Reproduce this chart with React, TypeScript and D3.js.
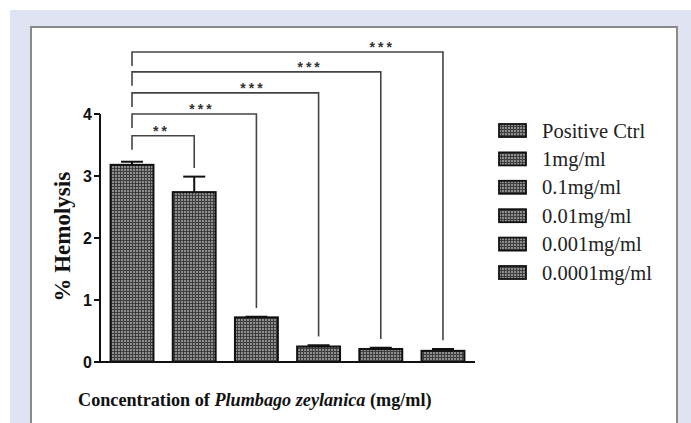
import React from "react";
import * as d3 from "d3";

const categories = ["Positive Ctrl", "1mg/ml", "0.1mg/ml", "0.01mg/ml", "0.001mg/ml", "0.0001mg/ml"];
const values = [3.18, 2.74, 0.72, 0.25, 0.21, 0.18];
const errors = [0.05, 0.25, 0.01, 0.02, 0.02, 0.03];
const yTicks = [0, 1, 2, 3, 4];
const bracketTargets = [1, 2, 3, 4, 5];
const bracketLevels = [3.65, 4.0, 4.34, 4.68, 5.0];
const bracketLabels = ["**", "***", "***", "***", "***"];
const bracketLabelPos = [0.45, 0.55, 0.64, 0.71, 0.8];

const W = 691;
const H = 423;
const margin = { left: 100, right: 216, top: 114, bottom: 61 };

export default function App() {
  const x = d3
    .scaleBand<string>()
    .domain(categories)
    .range([margin.left, W - margin.right])
    .paddingInner(0.31)
    .paddingOuter(0.17);
  const y = d3.scaleLinear().domain([0, 4]).range([H - margin.bottom, margin.top]);
  const bw = x.bandwidth();
  const cx = (i: number) => (x(categories[i]) as number) + bw / 2;
  const legendY = d3.scaleLinear().domain([0, 5]).range([130.5, 272.5]);

  return (
    <svg
      width={W}
      height={H}
      style={{ position: "absolute", left: 0, top: 0, display: "block" }}
    >
      <defs>
        <pattern id="dots" width={3} height={3} patternUnits="userSpaceOnUse">
          <rect width={3} height={3} fill="#3e3e3e" />
          <rect x={1} y={1} width={2} height={2} fill="#8e8e8e" />
        </pattern>
      </defs>
      <rect x={0} y={0} width={W} height={H} fill="#ffffff" />
      <rect x={10} y={10} width={W - 10} height={H - 10} fill="#e0e3f2" />
      <rect x={31} y={27} width={646} height={H} fill="#ffffff" stroke="#8a8a8a" strokeWidth={2} />

      {/* bars */}
      {values.map((v, i) => (
        <rect
          key={"b" + i}
          x={x(categories[i])}
          y={y(v)}
          width={bw}
          height={y(0) - y(v)}
          fill="url(#dots)"
          stroke="#111"
          strokeWidth={2}
        />
      ))}
      {/* error bars */}
      {values.map((v, i) => (
        <g key={"e" + i} stroke="#111" strokeWidth={2}>
          <line x1={cx(i)} x2={cx(i)} y1={y(v)} y2={y(v + errors[i])} />
          <line x1={cx(i) - 11} x2={cx(i) + 11} y1={y(v + errors[i])} y2={y(v + errors[i])} />
        </g>
      ))}

      {/* axes */}
      <g stroke="#111" strokeWidth={2}>
        <line x1={margin.left} x2={margin.left} y1={y(4)} y2={y(0) + 1} />
        <line x1={margin.left - 1} x2={W - margin.right} y1={y(0)} y2={y(0)} />
        {yTicks.map((t) => (
          <line key={"t" + t} x1={margin.left - 6} x2={margin.left} y1={y(t)} y2={y(t)} />
        ))}
      </g>
      {yTicks.map((t) => (
        <text
          key={"tl" + t}
          x={margin.left - 8}
          y={y(t)}
          dy="0.36em"
          textAnchor="end"
          fontFamily="'Liberation Sans', Arial, sans-serif"
          fontWeight="bold"
          fontSize={16}
          fill="#111"
        >
          {t}
        </text>
      ))}

      {/* significance brackets */}
      {bracketTargets.map((t, k) => {
        const yl = y(bracketLevels[k]);
        const x0 = cx(0);
        const x1 = cx(t);
        const bottomRight = y(values[t] + errors[t] + 0.14);
        return (
          <g key={"br" + k}>
            <path
              d={`M${x0},${yl + 14}V${yl}H${x1}V${bottomRight}`}
              fill="none"
              stroke="#444"
              strokeWidth={1.6}
            />
            <text
              x={x0 + (x1 - x0) * bracketLabelPos[k] + 1.5}
              y={yl}
              textAnchor="middle"
              fontFamily="'Liberation Sans', Arial, sans-serif"
              fontWeight="bold"
              fontSize={14}
              letterSpacing={3}
              fill="#333"
            >
              {bracketLabels[k]}
            </text>
          </g>
        );
      })}

      {/* y title */}
      <text
        transform={`translate(62,${y(2.02)}) rotate(-90)`}
        textAnchor="middle"
        dy="0.35em"
        fontFamily="'Liberation Serif', 'Times New Roman', serif"
        fontWeight="bold"
        fontSize={23}
        fill="#111"
      >
        % Hemolysis
      </text>

      {/* x title */}
      <text
        x={78}
        y={406}
        fontFamily="'Liberation Serif', 'Times New Roman', serif"
        fontWeight="bold"
        fontSize={18.2}
        fill="#111"
      >
        Concentration of <tspan fontStyle="italic">Plumbago zeylanica</tspan> (mg/ml)
      </text>

      {/* legend */}
      {categories.map((c, i) => (
        <g key={"l" + i}>
          <rect
            x={499}
            y={legendY(i) - 6.5}
            width={27}
            height={13}
            fill="url(#dots)"
            stroke="#111"
            strokeWidth={1.8}
          />
          <text
            x={542}
            y={legendY(i)}
            dy="0.35em"
            fontFamily="'Liberation Serif', 'Times New Roman', serif"
            fontSize={20.5}
            fill="#222"
          >
            {c}
          </text>
        </g>
      ))}
    </svg>
  );
}
